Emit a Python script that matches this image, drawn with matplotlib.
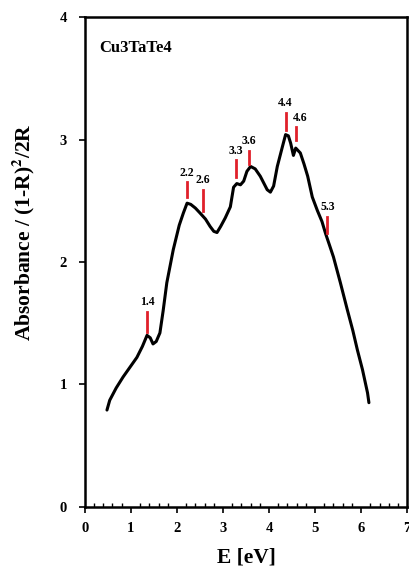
import numpy as np
import matplotlib.pyplot as plt
from matplotlib.ticker import MultipleLocator

# Absorbance spectrum (Kubelka-Munk) of Cu3TaTe4
energy = [0.48, 0.54, 0.68, 0.83, 0.98, 1.13, 1.25, 1.35, 1.42, 1.48, 1.55, 1.63,
          1.70, 1.78, 1.92, 2.05, 2.14, 2.22, 2.30, 2.40, 2.50, 2.62, 2.72, 2.80,
          2.87, 2.95, 3.05, 3.16, 3.23, 3.30, 3.38, 3.45, 3.52, 3.60, 3.70, 3.81,
          3.96, 4.03, 4.10, 4.18, 4.29, 4.36, 4.42, 4.47, 4.53, 4.58, 4.68, 4.76,
          4.84, 4.94, 5.05, 5.15, 5.23, 5.32, 5.40, 5.55, 5.70, 5.82, 5.92, 6.03,
          6.14, 6.17]
absorbance = [0.79, 0.87, 0.97, 1.06, 1.14, 1.22, 1.31, 1.40, 1.38, 1.33, 1.35, 1.42,
              1.60, 1.83, 2.10, 2.30, 2.40, 2.48, 2.47, 2.44, 2.40, 2.35, 2.29, 2.25,
              2.24, 2.29, 2.36, 2.45, 2.61, 2.64, 2.63, 2.66, 2.74, 2.78, 2.76, 2.70,
              2.59, 2.57, 2.62, 2.78, 2.94, 3.04, 3.03, 2.97, 2.87, 2.93, 2.89, 2.80,
              2.70, 2.53, 2.42, 2.33, 2.23, 2.13, 2.04, 1.83, 1.61, 1.44, 1.28, 1.12,
              0.93, 0.85]

# Labelled transitions: position, marker bottom, marker top
peak_e = [1.35, 2.22, 2.57, 3.29, 3.57, 4.36, 4.58, 5.27]
peak_lo = [1.43, 2.53, 2.42, 2.69, 2.80, 3.08, 3.00, 2.24]
peak_hi = [1.59, 2.65, 2.59, 2.83, 2.91, 3.22, 3.10, 2.37]
peak_labels = ['1.4', '2.2', '2.6', '3.3', '3.6', '4.4', '4.6', '5.3']
label_shift = [0, 0, 0, 0, 0, 0, 0.1, 0]

plt.rcParams['font.family'] = ['Liberation Serif', 'DejaVu Serif']
plt.rcParams['mathtext.fontset'] = 'stix'

fig = plt.figure(figsize=(4.1, 5.7), dpi=100)
ax = fig.add_axes([0.207, 0.111, 0.786, 0.859])

ax.plot(energy, absorbance, color='black', lw=2.2, solid_capstyle='round')

for e, lo, hi, lab, dx in zip(peak_e, peak_lo, peak_hi, peak_labels, label_shift):
    ax.plot([e, e], [lo, hi], color='#e0202a', lw=2)
    ax.text(e + dx, hi + 0.03, lab, ha='center', va='bottom', fontsize=8.5,
            fontweight='bold')

ax.text(0.32, 3.75, 'Cu3TaTe4', fontsize=12, fontweight='bold', ha='left',
        va='center')

ax.set_xlim(0, 7)
ax.set_ylim(0, 4)
ax.xaxis.set_major_locator(MultipleLocator(1))
ax.xaxis.set_minor_locator(MultipleLocator(0.2))
ax.yaxis.set_major_locator(MultipleLocator(1))
ax.tick_params(axis='x', which='major', direction='out', length=4, width=1.2,
               labelsize=10.5, pad=7)
ax.tick_params(axis='x', which='minor', direction='in', length=3, width=1)
ax.tick_params(axis='y', which='major', direction='out', length=4, width=1.2,
               labelsize=10.5, pad=9)
for lab in ax.get_xticklabels() + ax.get_yticklabels():
    lab.set_fontweight('bold')
for sp in ax.spines.values():
    sp.set_linewidth(1.8)

ax.set_xlabel('E [eV]', fontsize=15.5, fontweight='bold')
ax.xaxis.set_label_coords(0.5, -0.083)
ax.set_ylabel(r'Absorbance / (1-R)$^\mathbf{2}$/2R', fontsize=15.5,
              fontweight='bold')
ax.yaxis.set_label_coords(-0.15, 0.56)

fig.savefig('out.png', dpi=100)
